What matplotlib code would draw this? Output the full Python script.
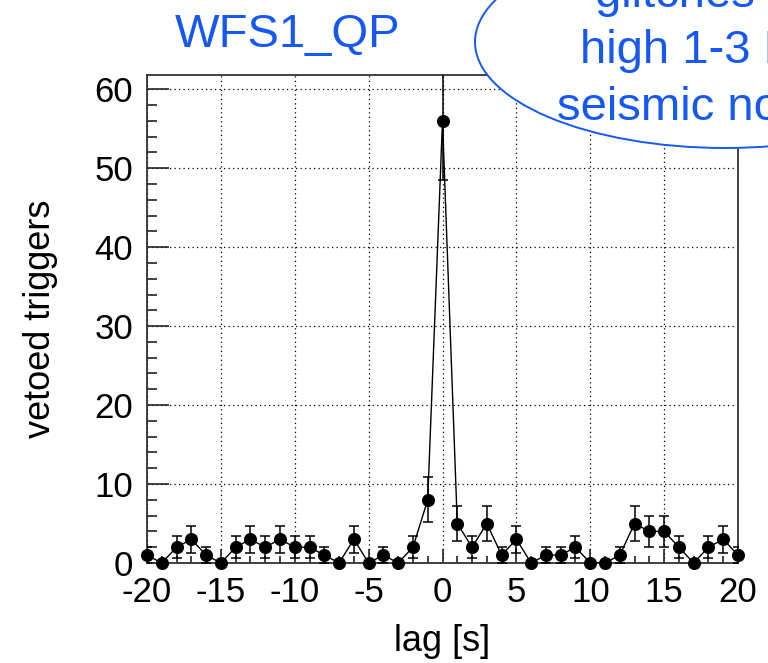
import matplotlib.pyplot as plt
from matplotlib.patches import Ellipse
from matplotlib.ticker import MultipleLocator
import numpy as np

plt.rcParams['font.family'] = ['Liberation Sans', 'DejaVu Sans']
plt.rcParams['axes.unicode_minus'] = False

# dados
lag = np.arange(-20, 21)
vetoed = [1, 0, 2, 3, 1, 0, 2, 3, 2, 3, 2, 2, 1, 0, 3, 0, 1, 0, 2, 8,
          56,
          5, 2, 5, 1, 3, 0, 1, 1, 2, 0, 0, 1, 5, 4, 4, 2, 0, 2, 3, 1]
titulo = "WFS1_QP"
balao = ["glitches", "high 1-3 Hz", "seismic noise"]

azul = '#1659f2'
W, H = 768, 663

fig = plt.figure(figsize=(W / 100, H / 100), dpi=100)
ax = fig.add_axes([147 / W, 1 - 563 / H, (738 - 147) / W, (563 - 75) / H])

y = np.array(vetoed, dtype=float)
err = np.sqrt(y)
tem = y > 0

ax.plot(lag, y, color='black', lw=1.0, zorder=3)
ax.errorbar(lag[tem], y[tem], yerr=err[tem], fmt='none', ecolor='black',
            elinewidth=1.1, capsize=3.4, capthick=1.1, zorder=3)
ax.plot(lag, y, 'o', color='black', ms=8.4, zorder=4, clip_on=False)

ax.set_xlim(-20, 20)
ax.set_ylim(0, 61.8)

ax.xaxis.set_major_locator(MultipleLocator(5))
ax.xaxis.set_minor_locator(MultipleLocator(1))
ax.yaxis.set_major_locator(MultipleLocator(10))
ax.yaxis.set_minor_locator(MultipleLocator(2))

ax.tick_params(axis='both', which='both', direction='in', colors='#222222',
               labelcolor='black', labelsize=25, width=1.2)
ax.tick_params(axis='y', which='major', length=16, pad=10)
ax.tick_params(axis='y', which='minor', length=7.5)
ax.tick_params(axis='x', which='major', length=10, pad=9)
ax.tick_params(axis='x', which='minor', length=5)

for s in ax.spines.values():
    s.set_linewidth(1.3)
    s.set_color('#333333')

ax.grid(True, which='major', color='black', lw=0.9, ls=(0, (1, 2.6)))
ax.set_axisbelow(True)

ax.set_xlabel("lag [s]", fontsize=26, labelpad=11)
ax.set_ylabel("vetoed triggers", fontsize=26, labelpad=26)

fig.text(288 / W, 1 - 47 / H, titulo, color=azul, fontsize=34,
         ha='center', va='baseline')

# balao com texto (cortado na borda)
bal = Ellipse((725 / W, 1 - 42 / H), 500 / W, 212 / H, transform=fig.transFigure,
              facecolor='white', edgecolor=azul, lw=1.4, zorder=10)
fig.add_artist(bal)
for txt, x0, yb in zip(balao, [595, 580, 557], [7, 63, 120]):
    fig.text(x0 / W, 1 - yb / H, txt, color=azul, fontsize=34,
             ha='left', va='baseline', zorder=11)

fig.savefig('out.png', dpi=100)
